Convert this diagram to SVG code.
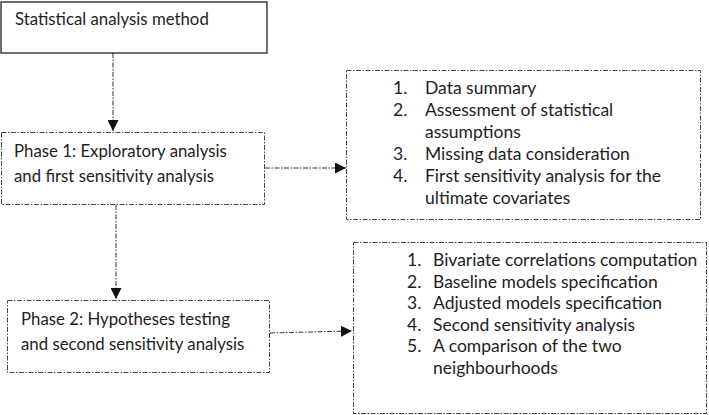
<svg xmlns="http://www.w3.org/2000/svg" width="709" height="415" viewBox="0 0 709 415">
<defs>
<style>
.t{font-family:"Lato","Liberation Sans",sans-serif;fill:#1e1e1e;}
.h{font-size:16.8px;}
.l{font-size:17.5px;}
.solid{fill:#fff;stroke:#222;stroke-width:1.3;}
.dash{fill:#fff;stroke:#444;stroke-width:1;stroke-dasharray:5 1.5 1.5 1.5;}
.conn{fill:none;stroke:#333;stroke-width:1;stroke-dasharray:5 1.5 1.5 1.5;}
</style>
<marker id="ah" viewBox="0 0 10 10" refX="10" refY="5" markerWidth="11" markerHeight="11" markerUnits="userSpaceOnUse" orient="auto">
<path d="M0,0 L10,5 L0,10 Z" fill="#111"/>
</marker>
</defs>
<rect width="709" height="415" fill="#fff"/>
<g id="connectors">
<line class="conn" x1="113" y1="53" x2="113" y2="131" marker-end="url(#ah)"/>
<line class="conn" x1="265" y1="168" x2="346" y2="168" marker-end="url(#ah)"/>
<line class="conn" x1="116" y1="205" x2="116" y2="299" marker-end="url(#ah)"/>
<line class="conn" x1="270" y1="333" x2="352" y2="331" marker-end="url(#ah)"/>
</g>
<g id="start">
<rect class="solid" x="1" y="2" width="266" height="51"/>
<text class="t h" x="15" y="25">Statistical analysis method</text>
</g>
<g id="phase1">
<rect class="dash" x="1.5" y="132.5" width="263" height="72"/>
<text class="t h" x="14" y="157">Phase 1: Exploratory analysis</text>
<text class="t h" x="14" y="182">and first sensitivity analysis</text>
</g>
<g id="phase1-tasks">
<rect class="dash" x="346.5" y="70.5" width="354" height="149"/>
<g class="t l">
<text x="393" y="94">1.</text><text x="425" y="94">Data summary</text>
<text x="393" y="116">2.</text><text x="425" y="116">Assessment of statistical</text>
<text x="425" y="138">assumptions</text>
<text x="393" y="160">3.</text><text x="425" y="160">Missing data consideration</text>
<text x="393" y="182">4.</text><text x="425" y="182">First sensitivity analysis for the</text>
<text x="425" y="204">ultimate covariates</text>
</g>
</g>
<g id="phase2">
<rect class="dash" x="7.5" y="300.5" width="262" height="72"/>
<text class="t h" x="21" y="325">Phase 2: Hypotheses testing</text>
<text class="t h" x="21" y="350">and second sensitivity analysis</text>
</g>
<g id="phase2-tasks">
<rect class="dash" x="353.5" y="242.5" width="353" height="171"/>
<g class="t l">
<text x="407" y="266">1.</text><text x="433" y="266">Bivariate correlations computation</text>
<text x="407" y="287.6">2.</text><text x="433" y="287.6">Baseline models specification</text>
<text x="407" y="309.2">3.</text><text x="433" y="309.2">Adjusted models specification</text>
<text x="407" y="330.8">4.</text><text x="433" y="330.8">Second sensitivity analysis</text>
<text x="407" y="352.4">5.</text><text x="433" y="352.4">A comparison of the two</text>
<text x="433" y="374">neighbourhoods</text>
</g>
</g>
</svg>
